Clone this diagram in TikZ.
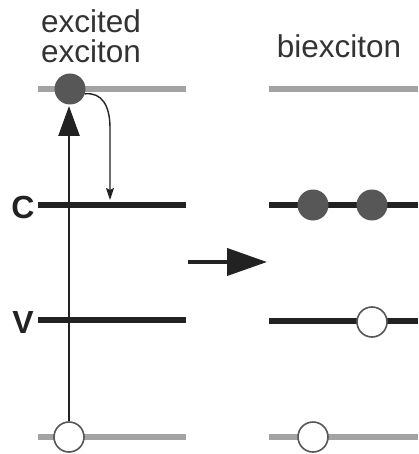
\documentclass[tikz,border=0pt]{standalone}
\usepackage{fontspec}
\setmainfont{Liberation Sans}
\usetikzlibrary{arrows.meta}
\definecolor{levelgray}{HTML}{A3A3A3}
\definecolor{levelblack}{HTML}{222222}
\definecolor{dotgray}{HTML}{575757}
\definecolor{txtgray}{HTML}{333333}
\tikzset{
  upper/.style={draw=levelgray,line width=5.5pt},
  band/.style={draw=levelblack,line width=6.5pt},
  electron/.style={circle,fill=dotgray,minimum size=31pt,inner sep=0pt},
  hole/.style={circle,fill=white,draw=dotgray,line width=1.6pt,minimum size=30pt,inner sep=0pt},
  caption/.style={font=\fontsize{31.5}{36}\selectfont,text=txtgray,align=center,inner sep=0pt},
  bandlabel/.style={font=\fontsize{32}{36}\selectfont\bfseries,text=levelblack,inner sep=0pt},
}
\begin{document}
\begin{tikzpicture}[x=1pt,y=-1pt]
\useasboundingbox (0,0) rectangle (418,454);

% energy levels, left panel
\draw[upper] (38,89) -- (186,89);
\draw[band]  (38,205) -- (186,205);
\draw[band]  (38,320) -- (186,320);
\draw[upper] (38,437) -- (186,437);

% energy levels, right panel
\draw[upper] (269,89) -- (418,89);
\draw[band]  (269,205) -- (418,205);
\draw[band]  (269,321) -- (418,321);
\draw[upper] (269,437) -- (418,437);

% band labels
\node[bandlabel] (lc) at (23,207) {C};
\node[bandlabel] (lv) at (23,322) {V};

% captions
\node[caption,anchor=base] (t1) at (91,33) {excited};
\node[caption,anchor=base] (t2) at (91,63) {exciton};
\node[caption,anchor=base] (t3) at (339,58) {biexciton};

% carriers
\node[electron] (e0) at (70,89) {};
\node[hole] (h0) at (69,437) {};
\node[electron] (e1) at (313,205) {};
\node[electron] (e2) at (372,205) {};
\node[hole] (h1) at (372,322) {};
\node[hole] (h2) at (313,437) {};

% optical excitation
\draw[draw=levelblack,line width=2.6pt,-{Triangle[length=30pt,width=21pt]}]
  (h0.north) -- (69,106);

% relaxation into the conduction band
\coordinate (relax) at (110,200);
\draw[draw=levelblack,line width=1.4pt,-{Stealth[length=12pt,width=8pt,inset=2pt]}]
  (e0.-18) .. controls (102,92) and (110,106) .. (110,128) -- (relax);

% process arrow
\coordinate (pa) at (188,262);
\coordinate (pb) at (267,262);
\draw[draw=levelblack,line width=4pt,-{Triangle[length=40pt,width=27pt]}] (pa) -- (pb);
\end{tikzpicture}
\end{document}
